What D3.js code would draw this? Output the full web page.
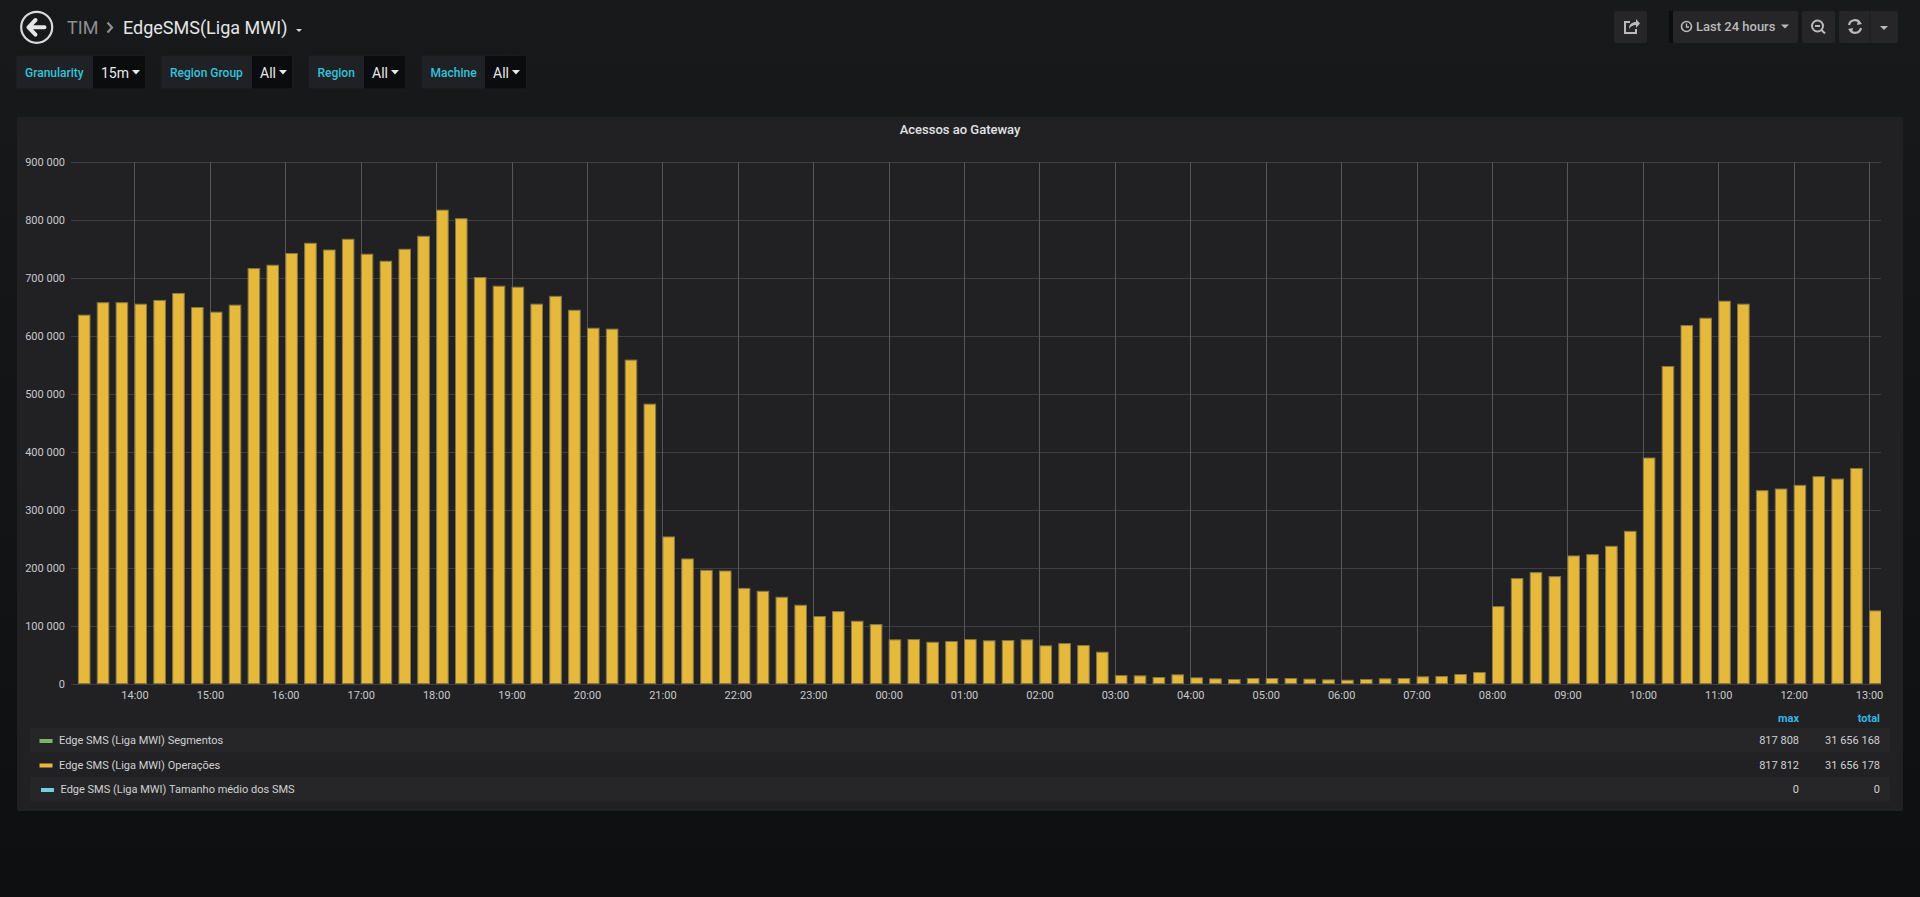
<!DOCTYPE html>
<html><head><meta charset="utf-8">
<script src="https://cdn.jsdelivr.net/npm/d3@7"></script>
<style>
html,body{margin:0;padding:0;background:#161719;overflow:hidden}
svg{display:block;font-family:Roboto,"Noto Sans",sans-serif}
</style></head><body>
<svg id="c" width="1920" height="897"></svg>
<script>
// ---------- data ----------
const breadcrumb = ["TIM", "EdgeSMS(Liga MWI)"];
const filterLabels = ["Granularity", "Region Group", "Region", "Machine"];
const filterValues = ["15m", "All", "All", "All"];
const timeRangeLabel = "Last 24 hours";
const panelTitle = "Acessos ao Gateway";

const firstBarTime = "2019-01-01T13:15:00";
const barIntervalMinutes = 15;
const domainStart = "2019-01-01T13:09:30";
const domainEnd = "2019-01-02T13:09:30";

const operacoes = [
  636600, 658000, 658000, 655500, 662000, 674000, 649700, 641700, 653800, 717000,
  722700, 743000, 760600, 749000, 767500, 741700, 729600, 750300, 772700, 817812,
  803000, 701500, 686500, 684800, 655500, 669000, 645000, 614000, 612400, 559000,
  483000, 253800, 215800, 196200, 195000, 165000, 160000, 149700, 135900, 116400,
  125000, 108300, 102600, 76200, 76700, 72000, 73300, 76700, 74500, 75000,
  76200, 65800, 69800, 66400, 54900, 14600, 14000, 11200, 15800, 10600,
  8900, 7800, 9500, 9500, 9500, 8400, 7200, 6600, 7800, 8900,
  9500, 12400, 12900, 16400, 19800, 133600, 181900, 192200, 185300, 221000,
  223300, 237600, 263500, 390000, 548000, 618600, 631300, 660700, 655500, 333600,
  336500, 342800, 357800, 353700, 372000, 126200
];
const yTicks = [0, 100000, 200000, 300000, 400000, 500000, 600000, 700000, 800000, 900000];

const legendNames = ["Edge SMS (Liga MWI) Segmentos", "Edge SMS (Liga MWI) Operações", "Edge SMS (Liga MWI) Tamanho médio dos SMS"];
const legendHeaders = ["max", "total"];
const legendMax = ["817 808", "817 812", "0"];
const legendTotal = ["31 656 168", "31 656 178", "0"];

// ---------- styles ----------
const seriesColors = ["#7eb26d", "#eab839", "#6ed0e0"];
const C = {
  panel: "#212124", text: "#d8d9da", axis: "#c8c9ca", gridH: "#3f3f42", gridV: "#56565a",
  bar: "#e6b83b", barStroke: "#857843", cyan: "#33b5e5", btn: "#262628", btnText: "#b9babb"
};

// ---------- setup ----------
const svg = d3.select("#c");
const defs = svg.append("defs");
const grad = defs.append("linearGradient").attr("id", "bg").attr("x1", 0).attr("y1", 0).attr("x2", 0).attr("y2", 1);
grad.append("stop").attr("offset", "0%").attr("stop-color", "#18191b");
grad.append("stop").attr("offset", "100%").attr("stop-color", "#0e0f11");
svg.append("rect").attr("width", 1920).attr("height", 897).attr("fill", "url(#bg)");

// ---------- top navbar ----------
const nav = svg.append("g");
nav.append("circle").attr("cx", 36.7).attr("cy", 27.3).attr("r", 15.5).attr("fill", "none").attr("stroke", "#d8d9da").attr("stroke-width", 2.2);
nav.append("path").attr("d", "M28.5,27.3 L35.5,20 M28.5,27.3 L35.5,34.6 M28.5,27.3 L44.5,27.3")
  .attr("stroke", "#e6e6e6").attr("stroke-width", 4).attr("fill", "none").attr("stroke-linecap", "round").attr("stroke-linejoin", "round");
nav.append("text").attr("x", 67).attr("y", 33.5).attr("font-size", 18).attr("fill", "#8e8f91").text(breadcrumb[0]);
nav.append("path").attr("d", "M107.5,22.5 L112,27.5 L107.5,32.5").attr("stroke", "#8e8f91").attr("stroke-width", 2.2).attr("fill", "none");
nav.append("text").attr("x", 123).attr("y", 33.5).attr("font-size", 18).attr("fill", "#e4e5e6").text(breadcrumb[1]);
nav.append("path").attr("d", "M296,29 L302,29 L299,32 Z").attr("fill", "#d8d9da");

// filter boxes
const fx = [16, 161, 308.5, 421.5];
const fvx = [93, 252, 364, 485];
const fend = [145.5, 292.5, 405.5, 526.5];
filterLabels.forEach((lab, i) => {
  const g = svg.append("g");
  g.append("rect").attr("x", fx[i]).attr("y", 55.5).attr("width", fend[i] - fx[i]).attr("height", 33.5).attr("rx", 2).attr("fill", "#202125").attr("stroke", "#1a1b1e");
  g.append("rect").attr("x", fvx[i]).attr("y", 56).attr("width", fend[i] - fvx[i] - 0.5).attr("height", 32.5).attr("fill", "#0b0c0e");
  g.append("text").attr("x", fx[i] + 9).attr("y", 77).attr("font-size", 12).attr("font-weight", 500).attr("fill", "#33c3dc").text(lab);
  const t = g.append("text").attr("x", fvx[i] + 8).attr("y", 77.5).attr("font-size", 14).attr("fill", "#e8e9ea").text(filterValues[i]);
  const w = t.node().getComputedTextLength();
  const cx = fvx[i] + 8 + w + 7;
  g.append("path").attr("d", `M${cx - 4},70 L${cx + 4},70 L${cx},74.5 Z`).attr("fill", "#e8e9ea");
});

// right buttons
const rb = svg.append("g");
rb.append("rect").attr("x", 1614).attr("y", 11).attr("width", 33).attr("height", 32).attr("rx", 2).attr("fill", C.btn);
rb.append("path").attr("d", "M1630,22 L1625,22 L1625,33 L1636,33 L1636,29").attr("stroke", C.btnText).attr("stroke-width", 2).attr("fill", "none");
rb.append("path").attr("d", "M1629,29 C1629,24 1632,22 1636,22 L1636,19 L1640,23.5 L1636,28 L1636,25 C1633,25 1631,26 1629,29 Z").attr("fill", C.btnText);
rb.append("rect").attr("x", 1669).attr("y", 11).attr("width", 4).attr("height", 32).attr("fill", "#0c0d0e");
rb.append("rect").attr("x", 1673).attr("y", 11).attr("width", 125).attr("height", 32).attr("rx", 2).attr("fill", C.btn);
rb.append("circle").attr("cx", 1686.5).attr("cy", 26.5).attr("r", 5).attr("fill", "none").attr("stroke", C.btnText).attr("stroke-width", 1.6);
rb.append("path").attr("d", "M1686.5,23.5 L1686.5,27 L1689,27").attr("stroke", C.btnText).attr("stroke-width", 1.3).attr("fill", "none");
rb.append("text").attr("x", 1696).attr("y", 31).attr("font-size", 13).attr("font-weight", 500).attr("fill", C.btnText).text(timeRangeLabel);
rb.append("path").attr("d", "M1781,24.5 L1789,24.5 L1785,28.5 Z").attr("fill", C.btnText);
rb.append("rect").attr("x", 1802).attr("y", 11).attr("width", 33).attr("height", 32).attr("rx", 2).attr("fill", C.btn);
rb.append("circle").attr("cx", 1817.5).attr("cy", 26).attr("r", 5.5).attr("fill", "none").attr("stroke", C.btnText).attr("stroke-width", 2);
rb.append("path").attr("d", "M1815,26 L1820,26 M1821.5,30 L1825,33.5").attr("stroke", C.btnText).attr("stroke-width", 2);
rb.append("rect").attr("x", 1839).attr("y", 11).attr("width", 59).attr("height", 32).attr("rx", 2).attr("fill", C.btn);
rb.append("rect").attr("x", 1869.5).attr("y", 11).attr("width", 1).attr("height", 32).attr("fill", "#1b1c1e");
rb.append("path").attr("d", "M1849,25 A6,6 0 0 1 1860,23 M1861,28 A6,6 0 0 1 1850,30").attr("stroke", C.btnText).attr("stroke-width", 2.2).attr("fill", "none");
rb.append("path").attr("d", "M1858,20 L1862,24 L1857,25 Z M1852,33 L1848,29 L1853,28 Z").attr("fill", C.btnText);
rb.append("path").attr("d", "M1880,26 L1888,26 L1884,30 Z").attr("fill", C.btnText);

// ---------- panel ----------
svg.append("rect").attr("x", 17).attr("y", 117).attr("width", 1886).attr("height", 694).attr("rx", 2).attr("fill", C.panel);
svg.append("text").attr("x", 960).attr("y", 134).attr("text-anchor", "middle").attr("font-size", 13).attr("font-weight", 500)
  .attr("fill", "#e2e3e4").text(panelTitle);

const parse = d3.isoParse;
const x = d3.scaleTime().domain([parse(domainStart), parse(domainEnd)]).range([71, 1881]);
const y = d3.scaleLinear().domain([0, 900000]).range([683.5, 162]);
const t0 = parse(firstBarTime);
const bars = operacoes.map((v, i) => ({ t: d3.timeMinute.offset(t0, i * barIntervalMinutes), v }));
const barW = t => x(d3.timeMinute.offset(t, 10)) - x(t);

const ft = d3.formatLocale({ decimal: ",", thousands: "\u00a0", grouping: [3], currency: ["", ""] }).format(",d");

// grid
const gy = svg.append("g");
gy.selectAll("line").data(yTicks).join("line")
  .attr("x1", 71).attr("x2", 1881).attr("y1", d => Math.round(y(d)) + 0.5).attr("y2", d => Math.round(y(d)) + 0.5)
  .attr("stroke", C.gridH).attr("stroke-width", 1);
const hourTicks = x.ticks(d3.timeHour.every(1));
const gx = svg.append("g");
gx.selectAll("line").data(hourTicks).join("line")
  .attr("x1", d => Math.round(x(d)) + 0.5).attr("x2", d => Math.round(x(d)) + 0.5).attr("y1", 162).attr("y2", 683.5)
  .attr("stroke", C.gridV).attr("stroke-width", 1);

// axes labels via d3 axes
const yAxis = svg.append("g").attr("transform", "translate(71,0)")
  .call(d3.axisLeft(y).tickValues(yTicks).tickFormat(ft).tickSize(0).tickPadding(6));
yAxis.select(".domain").remove();
yAxis.selectAll("text").attr("font-size", 11).attr("fill", C.axis).attr("font-family", "Roboto, sans-serif");

const xAxis = svg.append("g").attr("transform", "translate(0,683.5)")
  .call(d3.axisBottom(x).tickValues(hourTicks).tickFormat(d3.timeFormat("%H:%M")).tickSize(0).tickPadding(8));
xAxis.select(".domain").remove();
xAxis.selectAll("text").attr("font-size", 11).attr("fill", C.axis).attr("font-family", "Roboto, sans-serif");

// bars
svg.append("defs").append("clipPath").attr("id", "plotclip").append("rect").attr("x", 71).attr("y", 150).attr("width", 1810).attr("height", 540);
svg.append("g").attr("clip-path", "url(#plotclip)")
  .selectAll("rect").data(bars).join("rect")
  .attr("x", d => x(d.t) + 0.5).attr("y", d => y(d.v) + 0.5)
  .attr("width", d => barW(d.t) - 1).attr("height", d => y(0) - y(d.v) - 0.5)
  .attr("fill", C.bar).attr("stroke", C.barStroke).attr("stroke-width", 1);

// ---------- legend ----------
const lg = svg.append("g");
const hx = [1799, 1880];
legendHeaders.forEach((h, i) => {
  lg.append("text").attr("x", hx[i]).attr("y", 722).attr("text-anchor", "end").attr("font-size", 11).attr("font-weight", 700).attr("fill", C.cyan).text(h);
});
legendNames.forEach((n, i) => {
  const ry = 728 + i * 24.5;
  if (i !== 1) lg.append("rect").attr("x", 30).attr("y", ry).attr("width", 1860).attr("height", 24.5).attr("fill", "#262629");
  const off = i === 2 ? 1.5 : 0;
  lg.append("rect").attr("x", 39.5 + off).attr("y", ry + 11).attr("width", 13).attr("height", 4).attr("fill", seriesColors[i]);
  lg.append("text").attr("x", 59 + off).attr("y", ry + 16).attr("font-size", 11).attr("fill", "#d0d1d2").text(n);
  lg.append("text").attr("x", hx[0]).attr("y", ry + 16).attr("text-anchor", "end").attr("font-size", 11).attr("fill", "#d0d1d2").text(legendMax[i]);
  lg.append("text").attr("x", hx[1]).attr("y", ry + 16).attr("text-anchor", "end").attr("font-size", 11).attr("fill", "#d0d1d2").text(legendTotal[i]);
});
</script>
</body></html>
